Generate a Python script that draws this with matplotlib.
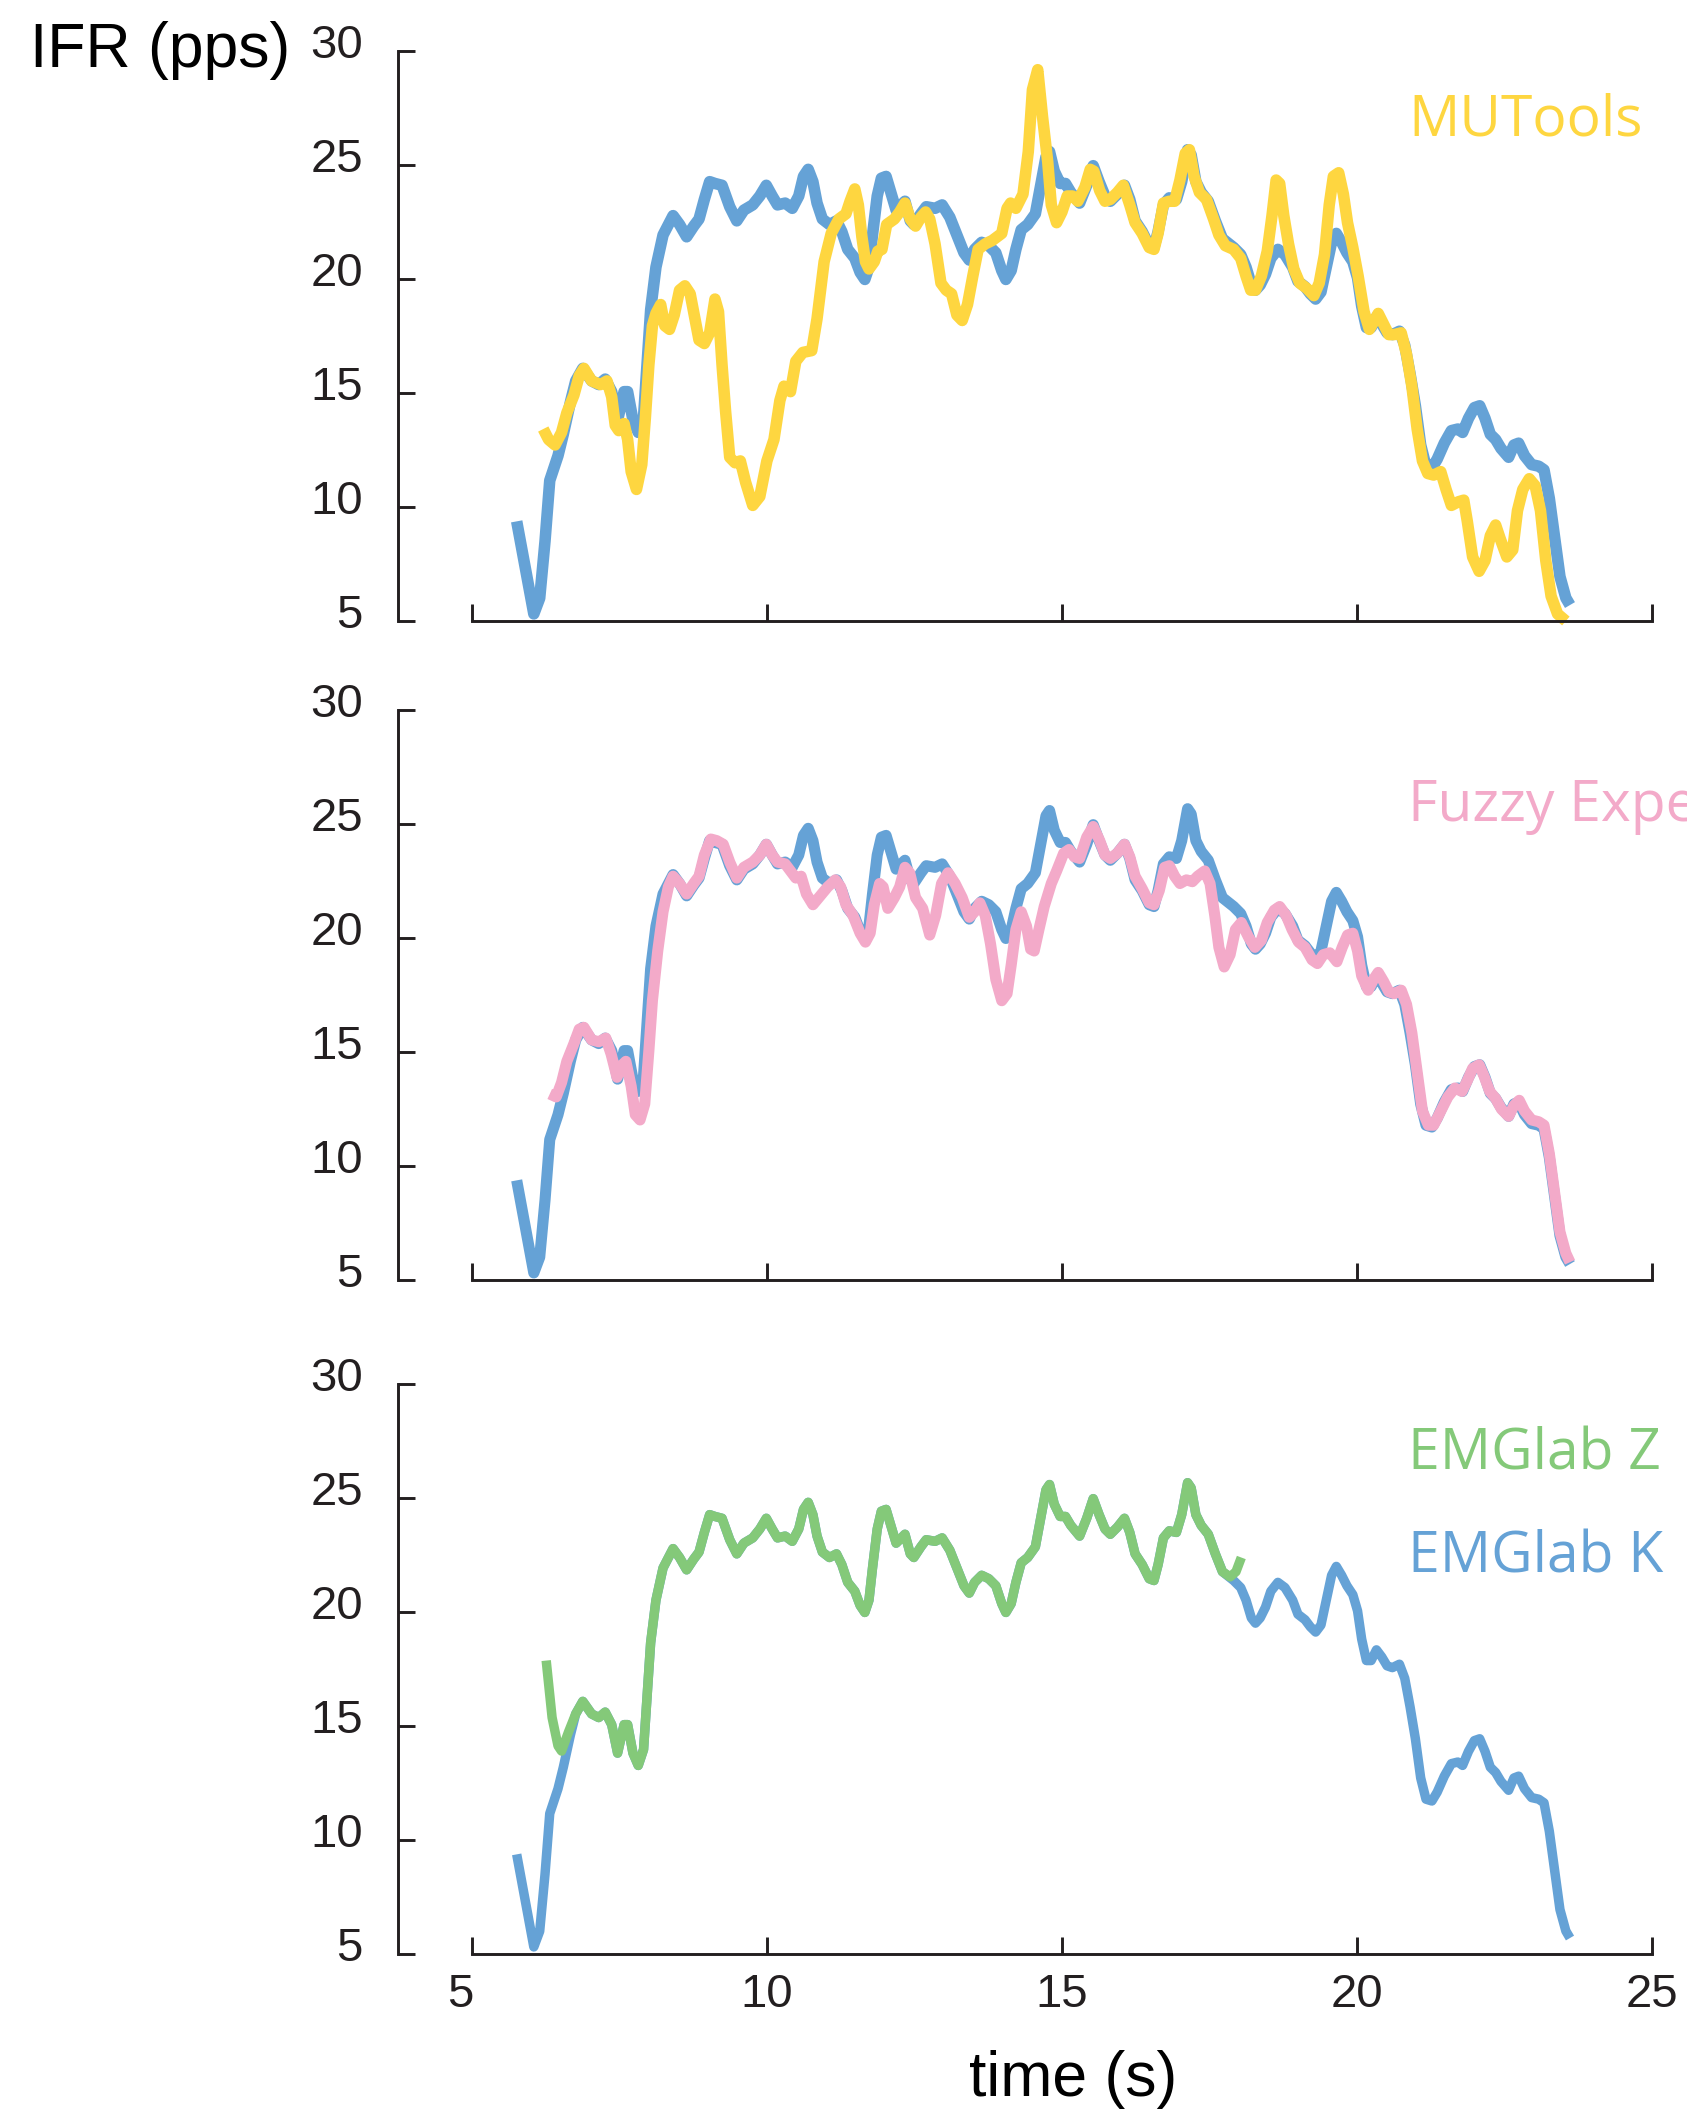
import matplotlib
matplotlib.use('Agg')
import matplotlib.pyplot as plt
import matplotlib.transforms as mtransforms

plt.rcParams['font.family'] = ['Liberation Sans', 'DejaVu Sans']

# colours picked off the figure
BLUE = '#65a2d6'
YELLOW = '#fed640'
PINK = '#f3aac9'
GREEN = '#84c979'
AXCOL = '#231f20'

# ---- EMGlab K, first bit before EMGlab Z joins it ----
k_head_t = [5.76, 5.91, 6.05, 6.15, 6.24, 6.32, 6.46, 6.55, 6.67]
k_head_ifr = [9.37, 7.26, 5.31, 6.0, 8.5, 11.16, 12.25, 13.19, 14.6]

# ---- stretch where EMGlab K and EMGlab Z give the same train ----
common_t = [6.76, 6.88, 7.03, 7.15, 7.26, 7.37, 7.47, 7.58, 7.64, 7.73, 7.82, 7.91,
            7.97, 8.03, 8.12, 8.24, 8.41, 8.52, 8.64, 8.76, 8.85, 8.94, 9.03, 9.12,
            9.24, 9.37, 9.49, 9.61, 9.76, 9.88, 9.99, 10.09, 10.18, 10.31, 10.43, 10.54,
            10.62, 10.70, 10.78, 10.85, 10.94, 11.06, 11.18, 11.27, 11.37, 11.49, 11.58, 11.66,
            11.73, 11.79, 11.87, 11.94, 12.02, 12.10, 12.19, 12.28, 12.34, 12.43, 12.49, 12.61,
            12.70, 12.85, 12.97, 13.10, 13.22, 13.34, 13.43, 13.52, 13.64, 13.76, 13.88, 13.98,
            14.05, 14.14, 14.22, 14.31, 14.42, 14.55, 14.64, 14.73, 14.79, 14.87, 14.97, 15.06,
            15.15, 15.30, 15.42, 15.53, 15.63, 15.73, 15.82, 15.94, 16.06, 16.15, 16.24, 16.36,
            16.48, 16.56, 16.63, 16.72, 16.82, 16.94, 17.03, 17.13, 17.19, 17.27, 17.36, 17.48,
            17.60, 17.72]
common_ifr = [15.53, 16.08, 15.53, 15.37, 15.61, 15.06, 13.81, 15.06, 15.06, 13.81, 13.27, 13.97,
              16.31, 18.65, 20.52, 21.93, 22.78, 22.39, 21.85, 22.32, 22.63, 23.49, 24.27, 24.19,
              24.11, 23.17, 22.55, 23.02, 23.25, 23.64, 24.11, 23.64, 23.25, 23.33, 23.1, 23.64,
              24.5, 24.81, 24.27, 23.33, 22.63, 22.39, 22.55, 22.08, 21.30, 20.91, 20.29, 19.98,
              20.52, 21.93, 23.64, 24.42, 24.5, 23.8, 23.02, 23.25, 23.41, 22.55, 22.39, 22.86,
              23.17, 23.1, 23.25, 22.71, 21.93, 21.15, 20.83, 21.30, 21.61, 21.46, 21.15, 20.37,
              19.98, 20.37, 21.30, 22.16, 22.39, 22.86, 24.11, 25.36, 25.59, 24.73, 24.19, 24.19,
              23.8, 23.33, 24.11, 24.97, 24.27, 23.64, 23.41, 23.72, 24.11, 23.49, 22.55, 22.08,
              21.46, 21.38, 22.08, 23.25, 23.56, 23.49, 24.27, 25.67, 25.44, 24.27, 23.8, 23.41,
              22.55, 21.77]

# ---- EMGlab K after EMGlab Z stops ----
k_tail_t = [17.91, 18.03, 18.12, 18.21, 18.28, 18.36, 18.45, 18.54, 18.66, 18.78, 18.91, 19.00,
            19.12, 19.21, 19.30, 19.39, 19.48, 19.57, 19.65, 19.74, 19.83, 19.93, 20.01, 20.08,
            20.16, 20.24, 20.33, 20.42, 20.51, 20.60, 20.72, 20.81, 20.90, 20.99, 21.08, 21.17,
            21.27, 21.36, 21.48, 21.60, 21.71, 21.79, 21.89, 21.99, 22.08, 22.17, 22.26, 22.35,
            22.44, 22.57, 22.66, 22.74, 22.84, 22.96, 23.08, 23.17, 23.26, 23.35, 23.44, 23.54,
            23.61]
k_tail_ifr = [21.38, 21.07, 20.52, 19.74, 19.51, 19.74, 20.21, 20.91, 21.30, 21.07, 20.52, 19.90,
              19.66, 19.35, 19.12, 19.43, 20.52, 21.61, 22.0, 21.61, 21.15, 20.76, 20.05, 18.81,
              17.87, 17.87, 18.34, 18.03, 17.64, 17.56, 17.71, 17.09, 15.84, 14.44, 12.72, 11.79,
              11.71, 12.1, 12.80, 13.35, 13.42, 13.27, 13.89, 14.36, 14.44, 13.89, 13.19, 12.96,
              12.57, 12.18, 12.72, 12.80, 12.25, 11.86, 11.79, 11.63, 10.38, 8.67, 6.95, 6.01,
              5.7]

# ---- EMGlab Z start and end ----
z_head_t = [6.26, 6.36, 6.46, 6.52, 6.64]
z_head_ifr = [17.87, 15.37, 14.13, 13.9, 14.75]
z_tail_t = [17.85, 17.95, 18.04]
z_tail_ifr = [21.54, 21.77, 22.39]

# ---- MUTools ----
mutools_t = [6.21, 6.30, 6.41, 6.52, 6.61, 6.73, 6.82, 6.90, 7.03, 7.18, 7.29, 7.37,
             7.43, 7.49, 7.58, 7.64, 7.70, 7.79, 7.88, 7.94, 8.00, 8.06, 8.12, 8.20,
             8.27, 8.35, 8.43, 8.52, 8.61, 8.70, 8.78, 8.85, 8.94, 9.03, 9.12, 9.18,
             9.24, 9.30, 9.37, 9.46, 9.55, 9.64, 9.76, 9.88, 10.0, 10.12, 10.22, 10.29,
             10.40, 10.49, 10.61, 10.76, 10.85, 10.97, 11.09, 11.22, 11.34, 11.41, 11.49, 11.55,
             11.61, 11.67, 11.73, 11.82, 11.88, 11.95, 12.03, 12.16, 12.25, 12.34, 12.43, 12.52,
             12.61, 12.69, 12.76, 12.85, 12.95, 13.04, 13.13, 13.22, 13.31, 13.40, 13.49, 13.58,
             13.70, 13.82, 13.98, 14.07, 14.13, 14.22, 14.34, 14.43, 14.50, 14.59, 14.67, 14.76,
             14.82, 14.91, 15.0, 15.09, 15.18, 15.27, 15.39, 15.48, 15.54, 15.64, 15.73, 15.82,
             15.94, 16.04, 16.15, 16.24, 16.36, 16.48, 16.56, 16.63, 16.72, 16.82, 16.91, 17.0,
             17.09, 17.16, 17.24, 17.33, 17.45, 17.57, 17.66, 17.77, 17.91, 18.03, 18.12, 18.20,
             18.28, 18.38, 18.48, 18.56, 18.63, 18.69, 18.76, 18.84, 18.93, 19.03, 19.15, 19.27,
             19.36, 19.45, 19.53, 19.60, 19.69, 19.77, 19.84, 19.93, 20.02, 20.12, 20.21, 20.28,
             20.36, 20.45, 20.54, 20.63, 20.75, 20.84, 20.93, 21.02, 21.11, 21.20, 21.30, 21.42,
             21.51, 21.60, 21.72, 21.81, 21.87, 21.96, 22.07, 22.17, 22.26, 22.35, 22.43, 22.54,
             22.64, 22.72, 22.81, 22.92, 23.02, 23.11, 23.20, 23.29, 23.40, 23.54]
mutools_ifr = [13.42, 12.96, 12.72, 13.27, 14.13, 14.91, 15.76, 16.08, 15.53, 15.37, 15.53, 14.83,
               13.58, 13.35, 13.66, 12.96, 11.55, 10.77, 11.86, 13.89, 16.23, 17.95, 18.49, 18.88,
               17.95, 17.79, 18.42, 19.51, 19.70, 19.35, 18.26, 17.32, 17.17, 17.64, 19.12, 18.57,
               16.23, 14.20, 12.18, 11.94, 12.02, 11.08, 10.07, 10.46, 12.02, 12.96, 14.67, 15.30,
               15.06, 16.39, 16.78, 16.86, 18.26, 20.76, 22.0, 22.63, 22.86, 23.41, 23.95, 23.25,
               21.85, 20.76, 20.44, 20.76, 21.22, 21.30, 22.39, 22.63, 22.94, 23.33, 22.63, 22.32,
               22.71, 22.94, 22.63, 21.54, 19.82, 19.51, 19.35, 18.42, 18.18, 18.88, 20.13, 21.30,
               21.54, 21.69, 22.0, 23.1, 23.33, 23.1, 23.72, 25.59, 28.3, 29.18, 27.15, 25.12,
               23.25, 22.47, 22.94, 23.64, 23.64, 23.41, 24.03, 24.81, 24.73, 23.88, 23.41, 23.49,
               23.80, 24.11, 23.25, 22.47, 22.0, 21.38, 21.30, 22.0, 23.33, 23.41, 23.41, 24.34,
               25.51, 25.67, 24.50, 23.80, 23.49, 22.63, 21.93, 21.46, 21.30, 20.91, 20.13, 19.51,
               19.51, 20.13, 21.22, 22.78, 24.34, 24.19, 22.78, 21.54, 20.44, 19.82, 19.59, 19.27,
               19.82, 21.07, 23.25, 24.50, 24.66, 23.72, 22.47, 21.38, 20.13, 18.57, 17.79, 18.10,
               18.49, 18.03, 17.56, 17.56, 17.64, 16.70, 15.30, 13.42, 12.02, 11.47, 11.40, 11.55,
               10.77, 10.07, 10.23, 10.30, 9.37, 7.81, 7.18, 7.65, 8.74, 9.21, 8.59, 7.81,
               8.12, 9.84, 10.77, 11.24, 10.93, 9.84, 7.65, 6.09, 5.31, 5.0]

# ---- Fuzzy Expert ----
fuzzy_t = [6.32, 6.43, 6.52, 6.61, 6.73, 6.82, 6.90, 7.03, 7.15, 7.27, 7.36, 7.46,
           7.55, 7.61, 7.70, 7.77, 7.85, 7.93, 8.0, 8.06, 8.15, 8.24, 8.33, 8.41,
           8.52, 8.64, 8.76, 8.85, 8.94, 9.05, 9.15, 9.26, 9.37, 9.49, 9.61, 9.76,
           9.88, 9.99, 10.09, 10.18, 10.31, 10.40, 10.49, 10.58, 10.67, 10.78, 10.88, 11.03,
           11.16, 11.25, 11.34, 11.46, 11.58, 11.67, 11.75, 11.82, 11.91, 11.97, 12.05, 12.16,
           12.25, 12.34, 12.42, 12.52, 12.64, 12.76, 12.86, 12.96, 13.07, 13.19, 13.31, 13.43,
           13.52, 13.61, 13.70, 13.79, 13.88, 13.98, 14.07, 14.14, 14.22, 14.31, 14.40, 14.47,
           14.53, 14.61, 14.70, 14.82, 14.91, 15.03, 15.12, 15.21, 15.30, 15.42, 15.53, 15.64,
           15.73, 15.82, 15.94, 16.06, 16.15, 16.24, 16.36, 16.48, 16.56, 16.65, 16.74, 16.82,
           16.91, 17.00, 17.11, 17.21, 17.30, 17.42, 17.51, 17.59, 17.66, 17.75, 17.85, 17.94,
           18.04, 18.16, 18.27, 18.38, 18.48, 18.60, 18.69, 18.80, 18.90, 19.01, 19.12, 19.24,
           19.33, 19.43, 19.54, 19.66, 19.75, 19.84, 19.93, 20.01, 20.08, 20.19, 20.28, 20.36,
           20.45, 20.54, 20.63, 20.75, 20.84, 20.93, 21.02, 21.11, 21.21, 21.30, 21.42, 21.54,
           21.66, 21.78, 21.87, 21.96, 22.07, 22.15, 22.25, 22.35, 22.45, 22.57, 22.66, 22.75,
           22.84, 22.96, 23.08, 23.17, 23.26, 23.35, 23.44, 23.54, 23.61]
fuzzy_ifr = [13.16, 13.03, 13.66, 14.59, 15.37, 16.0, 16.08, 15.53, 15.45, 15.61, 14.91, 13.89,
             14.44, 14.59, 13.50, 12.25, 12.02, 12.72, 15.06, 17.25, 19.43, 21.15, 22.24, 22.71,
             22.39, 21.93, 22.39, 22.71, 23.64, 24.34, 24.27, 24.11, 23.33, 22.63, 23.10, 23.33,
             23.64, 24.11, 23.64, 23.33, 23.25, 22.94, 22.63, 22.71, 21.93, 21.46, 21.77, 22.24,
             22.55, 22.24, 21.46, 20.99, 20.21, 19.82, 20.21, 21.46, 22.39, 22.24, 21.30, 21.77,
             22.24, 23.10, 22.86, 21.77, 21.30, 20.13, 20.99, 22.39, 22.86, 22.39, 21.77, 20.91,
             21.15, 21.54, 20.99, 19.74, 18.18, 17.25, 17.56, 18.81, 20.37, 21.15, 20.52, 19.51,
             19.43, 20.37, 21.38, 22.39, 22.94, 23.72, 23.88, 23.56, 23.49, 24.42, 24.89, 24.27,
             23.64, 23.49, 23.72, 24.11, 23.56, 22.71, 22.16, 21.54, 21.46, 22.08, 23.10, 23.17,
             22.71, 22.39, 22.55, 22.47, 22.71, 22.94, 22.39, 20.99, 19.59, 18.73, 19.27, 20.37,
             20.68, 20.05, 19.59, 19.90, 20.68, 21.22, 21.38, 20.99, 20.37, 19.82, 19.59, 19.04,
             18.88, 19.27, 19.35, 18.96, 19.59, 20.13, 20.21, 19.43, 18.34, 17.71, 18.18, 18.49,
             18.10, 17.64, 17.56, 17.71, 17.09, 15.84, 14.13, 12.41, 11.79, 11.79, 12.41, 13.03,
             13.42, 13.27, 13.74, 14.28, 14.44, 13.97, 13.27, 12.96, 12.49, 12.18, 12.65, 12.88,
             12.41, 12.02, 11.94, 11.79, 10.54, 8.82, 7.11, 6.17, 5.78]

emglab_k_t = k_head_t + common_t + k_tail_t
emglab_k_ifr = k_head_ifr + common_ifr + k_tail_ifr
emglab_z_t = z_head_t + common_t + z_tail_t
emglab_z_ifr = z_head_ifr + common_ifr + z_tail_ifr


def style_axes(fig, ax, show_xlabels):
    ax.set_xlim(3.74, 25)
    ax.set_ylim(5, 30)
    ax.patch.set_visible(False)
    ax.spines['top'].set_visible(False)
    ax.spines['right'].set_visible(False)
    # x spine only runs 5..25, so it stands off the y spine
    ax.spines['bottom'].set_bounds(5, 25)
    ax.spines['left'].set_bounds(5, 30)
    for side in ['left', 'bottom']:
        ax.spines[side].set_linewidth(2.1)
        ax.spines[side].set_color(AXCOL)
    ax.set_xticks([5, 10, 15, 20, 25])
    ax.set_yticks([5, 10, 15, 20, 25, 30])
    ax.tick_params(direction='in', length=12, width=2.1, color=AXCOL,
                   labelsize=34, labelcolor=AXCOL)
    ax.tick_params(axis='y', pad=25)
    ax.tick_params(axis='x', pad=14)
    if not show_xlabels:
        ax.set_xticklabels([])
    else:
        # the "5" sits a bit left of its tick in the original
        nudge = mtransforms.ScaledTranslation(-0.12, 0, fig.dpi_scale_trans)
        first = ax.get_xticklabels()[0]
        first.set_transform(first.get_transform() + nudge)
    # y labels sit a little above their ticks in the original
    lift = mtransforms.ScaledTranslation(0, 0.10, fig.dpi_scale_trans)
    for lab in ax.get_yticklabels():
        lab.set_transform(lab.get_transform() + lift)


fig = plt.figure(figsize=(16.87, 21.13), dpi=100)

left = 397.5 / 1687
width = (1652 - 397.5) / 1687
height = 570 / 2113
bottoms = [1 - 621 / 2113, 1 - 1280 / 2113, 1 - 1954 / 2113]

ax1 = fig.add_axes([left, bottoms[0], width, height])
ax2 = fig.add_axes([left, bottoms[1], width, height])
ax3 = fig.add_axes([left, bottoms[2], width, height])

line_kw = dict(solid_capstyle='butt', solid_joinstyle='round', clip_on=False)

# top: MUTools over EMGlab K
ax1.plot(emglab_k_t, emglab_k_ifr, color=BLUE, lw=8.3, **line_kw)
ax1.plot(mutools_t, mutools_ifr, color=YELLOW, lw=8.3, **line_kw)

# middle: Fuzzy Expert over EMGlab K
ax2.plot(emglab_k_t, emglab_k_ifr, color=BLUE, lw=8.0, **line_kw)
ax2.plot(fuzzy_t, fuzzy_ifr, color=PINK, lw=8.0, **line_kw)

# bottom: EMGlab Z over EMGlab K
ax3.plot(emglab_k_t, emglab_k_ifr, color=BLUE, lw=6.8, **line_kw)
ax3.plot(emglab_z_t, emglab_z_ifr, color=GREEN, lw=6.8, **line_kw)

style_axes(fig, ax1, False)
style_axes(fig, ax2, False)
style_axes(fig, ax3, True)

# labels
fig.text(29.8 / 1687, 1 - 67.3 / 2113, 'IFR (pps)', fontsize=45, color='black',
         ha='left', va='baseline')
fig.text(968.6 / 1687, 1 - 2096 / 2113, 'time (s)', fontsize=45, color='black',
         ha='left', va='baseline')

name_kw = dict(fontsize=41, family=['Open Sans', 'DejaVu Sans'], ha='left', va='baseline')
fig.text(1408 / 1687, 1 - 135.7 / 2113, 'MUTools', color=YELLOW, **name_kw)
# runs off the right edge in the original too
fig.text(1408 / 1687, 1 - 821 / 2113, 'Fuzzy Expert', color=PINK, **name_kw)
fig.text(1408 / 1687, 1 - 1469 / 2113, 'EMGlab Z', color=GREEN, **name_kw)
fig.text(1408 / 1687, 1 - 1572.5 / 2113, 'EMGlab K', color=BLUE, **name_kw)

fig.savefig('out.png', dpi=100)
